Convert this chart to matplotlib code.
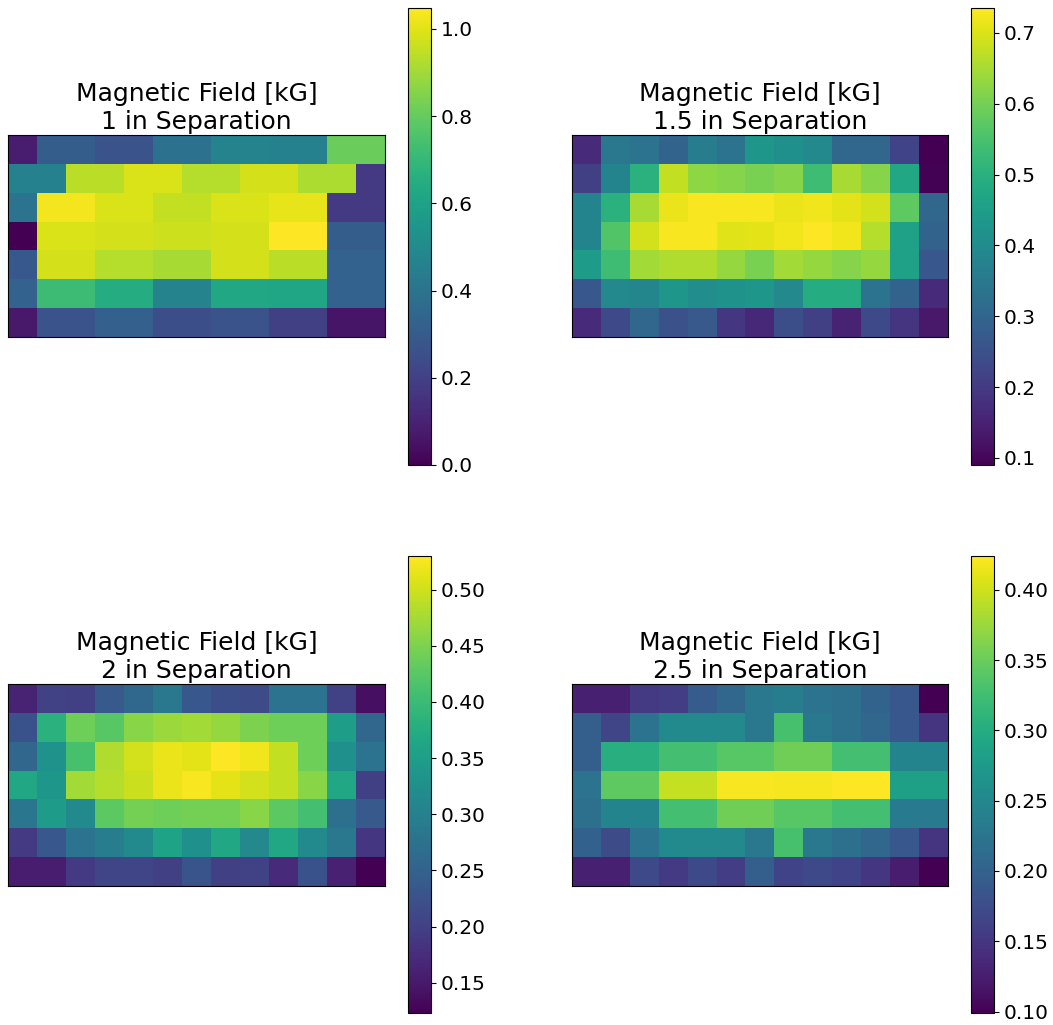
import numpy as np
import matplotlib
matplotlib.use('Agg')
import matplotlib.pyplot as plt

# field maps, 7 rows x 13 columns each [kG]
field_1in = [
    [0.08, 0.31, 0.31, 0.27, 0.27, 0.39, 0.39, 0.47, 0.47, 0.46, 0.46, 0.81, 0.81],
    [0.46, 0.46, 0.94, 0.94, 0.99, 0.99, 0.93, 0.93, 0.98, 0.98, 0.92, 0.92, 0.18],
    [0.40, 1.03, 1.03, 0.99, 0.99, 0.95, 0.95, 0.99, 0.99, 1.01, 1.01, 0.18, 0.18],
    [0.00, 0.99, 0.99, 0.98, 0.98, 0.97, 0.97, 0.98, 0.98, 1.048, 1.048, 0.31, 0.31],
    [0.29, 0.98, 0.98, 0.93, 0.93, 0.91, 0.91, 0.98, 0.98, 0.94, 0.94, 0.33, 0.33],
    [0.33, 0.72, 0.72, 0.65, 0.65, 0.47, 0.47, 0.63, 0.63, 0.62, 0.62, 0.33, 0.33],
    [0.07, 0.27, 0.27, 0.32, 0.32, 0.25, 0.25, 0.27, 0.27, 0.20, 0.20, 0.06, 0.06],
]

field_15in = [
    [0.167, 0.348, 0.335, 0.296, 0.361, 0.335, 0.432, 0.413, 0.393, 0.303, 0.303, 0.219, 0.090],
    [0.213, 0.380, 0.503, 0.677, 0.625, 0.619, 0.606, 0.619, 0.535, 0.651, 0.619, 0.477, 0.095],
    [0.380, 0.503, 0.651, 0.716, 0.729, 0.729, 0.729, 0.716, 0.722, 0.709, 0.690, 0.574, 0.303],
    [0.380, 0.561, 0.690, 0.729, 0.729, 0.703, 0.709, 0.722, 0.735, 0.722, 0.664, 0.458, 0.296],
    [0.445, 0.535, 0.645, 0.658, 0.658, 0.632, 0.606, 0.645, 0.632, 0.619, 0.632, 0.458, 0.264],
    [0.264, 0.393, 0.387, 0.432, 0.406, 0.419, 0.432, 0.393, 0.490, 0.490, 0.335, 0.296, 0.167],
    [0.167, 0.232, 0.303, 0.251, 0.271, 0.193, 0.161, 0.245, 0.213, 0.155, 0.232, 0.187, 0.135],
]

field_2in = [
    [0.164, 0.204, 0.200, 0.237, 0.261, 0.286, 0.233, 0.221, 0.217, 0.278, 0.278, 0.204, 0.139],
    [0.225, 0.383, 0.440, 0.424, 0.457, 0.469, 0.473, 0.465, 0.449, 0.440, 0.440, 0.351, 0.257],
    [0.257, 0.331, 0.412, 0.481, 0.502, 0.518, 0.514, 0.530, 0.522, 0.493, 0.440, 0.327, 0.278],
    [0.367, 0.339, 0.473, 0.485, 0.497, 0.518, 0.526, 0.514, 0.502, 0.493, 0.457, 0.367, 0.200],
    [0.282, 0.347, 0.318, 0.428, 0.445, 0.440, 0.445, 0.445, 0.457, 0.428, 0.408, 0.274, 0.237],
    [0.192, 0.233, 0.278, 0.294, 0.318, 0.359, 0.327, 0.367, 0.314, 0.367, 0.318, 0.286, 0.188],
    [0.156, 0.156, 0.192, 0.208, 0.208, 0.200, 0.229, 0.200, 0.204, 0.172, 0.225, 0.160, 0.123],
]

field_25in = [
    [0.128, 0.128, 0.154, 0.158, 0.193, 0.206, 0.229, 0.236, 0.223, 0.219, 0.203, 0.187, 0.099],
    [0.197, 0.167, 0.223, 0.255, 0.255, 0.252, 0.229, 0.330, 0.229, 0.219, 0.206, 0.187, 0.148],
    [0.197, 0.304, 0.304, 0.327, 0.327, 0.340, 0.340, 0.353, 0.353, 0.327, 0.327, 0.245, 0.245],
    [0.223, 0.343, 0.343, 0.395, 0.395, 0.421, 0.421, 0.420, 0.420, 0.424, 0.424, 0.284, 0.284],
    [0.219, 0.245, 0.245, 0.327, 0.327, 0.353, 0.353, 0.340, 0.340, 0.327, 0.327, 0.232, 0.232],
    [0.200, 0.174, 0.223, 0.255, 0.255, 0.252, 0.229, 0.330, 0.229, 0.219, 0.206, 0.187, 0.148],
    [0.128, 0.128, 0.171, 0.154, 0.171, 0.158, 0.197, 0.164, 0.171, 0.164, 0.151, 0.125, 0.099],
]

separations = ['1', '1.5', '2', '2.5']
fields = [field_1in, field_15in, field_2in, field_25in]

W, H = 1053, 1025
fig = plt.figure(figsize=(W / 100, H / 100), dpi=100)


def box(x0, y0, x1, y1):
    # pixel box (top-left origin) -> figure fraction rect
    return [x0 / W, 1 - y1 / H, (x1 - x0) / W, (y1 - y0) / H]


map_boxes = [(8, 135, 385, 337), (572, 135, 948, 337),
             (8, 684, 385, 886), (572, 684, 948, 886)]
bar_boxes = [(408, 8, 431, 465), (971, 8, 994, 465),
             (408, 556, 431, 1013), (971, 556, 994, 1013)]

for sep, data, mb, cb in zip(separations, fields, map_boxes, bar_boxes):
    ax = fig.add_axes(box(*mb))
    im = ax.imshow(np.array(data), cmap='viridis', aspect='auto',
                   interpolation='nearest')
    ax.set_xticks([])
    ax.set_yticks([])
    ax.set_title('Magnetic Field [kG]\n' + sep + ' in Separation',
                 fontsize=18, pad=4.5)
    cax = fig.add_axes(box(*cb))
    cbar = fig.colorbar(im, cax=cax)
    cbar.ax.tick_params(labelsize=14.5)

fig.savefig('out.png', dpi=100)
